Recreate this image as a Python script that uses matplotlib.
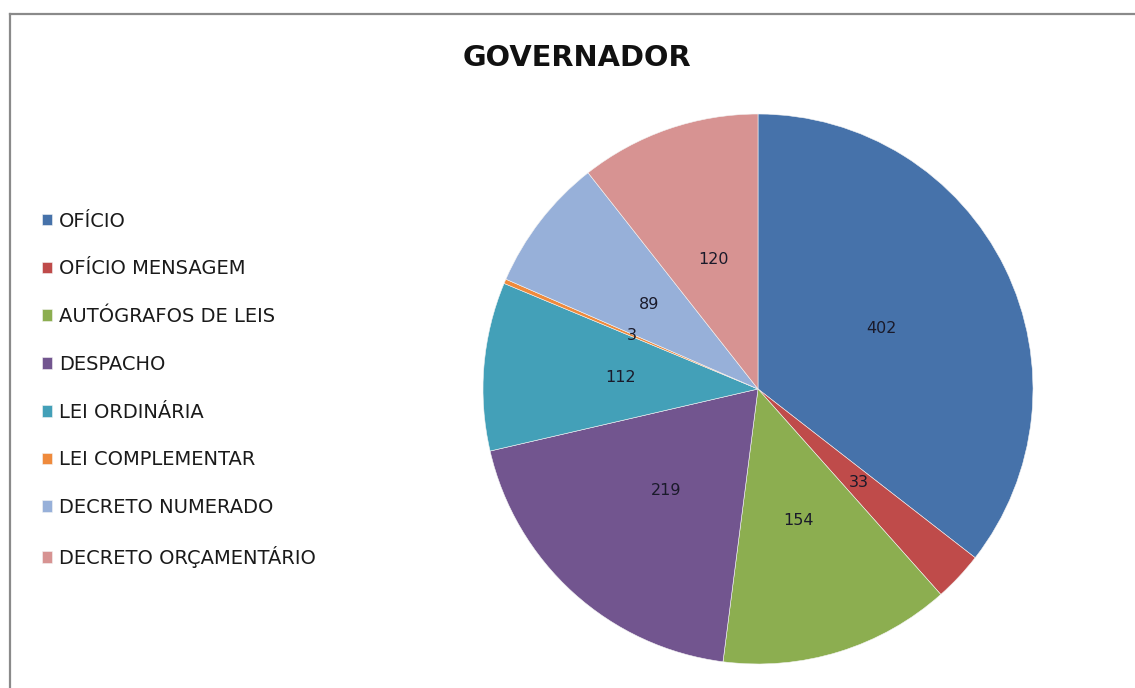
import matplotlib
matplotlib.use('Agg')
import matplotlib.pyplot as plt
from matplotlib.lines import Line2D

# dados do gráfico
categorias = ['OFÍCIO', 'OFÍCIO MENSAGEM', 'AUTÓGRAFOS DE LEIS', 'DESPACHO',
              'LEI ORDINÁRIA', 'LEI COMPLEMENTAR', 'DECRETO NUMERADO',
              'DECRETO ORÇAMENTÁRIO']
valores = [402, 33, 154, 219, 112, 3, 89, 120]
cores = ['#4672aa', '#bf4b4a', '#8cae50', '#72558f', '#43a0b8', '#ef8a3c',
         '#97b0d9', '#d79392']

plt.rcParams['font.family'] = ['DejaVu Sans']

fig = plt.figure(figsize=(11.35, 6.88), dpi=100)
W, H = 1135, 688

# centro e raio da pizza em pixels
cx, cy, r = 758, 389, 275
ax = fig.add_axes([(cx - r) / W, (H - cy - r) / H, 2 * r / W, 2 * r / H])

total = sum(valores)
wedges, textos, autotextos = ax.pie(
    valores, colors=cores, startangle=90, counterclock=False,
    autopct=lambda p: '%d' % round(p * total / 100), pctdistance=0.5,
    wedgeprops=dict(edgecolor='#f4f4f4', linewidth=0.4),
    textprops=dict(fontsize=11.5, color='#1a1a2a'))
ax.set_xlim(-1, 1)
ax.set_ylim(-1, 1)
ax.set_aspect('equal')

fig.text(577 / W, 1 - 58 / H, 'GOVERNADOR', ha='center', va='center',
         fontsize=20.8, fontweight='bold', color='#111111')

fig.legend(wedges, categorias, loc='upper left',
           bbox_to_anchor=(24 / W, 1 - 194 / H), frameon=False,
           fontsize=14, labelspacing=1.48, handlelength=0.55,
           handleheight=0.55, handletextpad=0.35, labelcolor='#1a1a1a')

# moldura
fig.add_artist(Line2D([10 / W, 10 / W], [0, 1 - 14 / H], color='#8a8a8a',
                      linewidth=1.6, transform=fig.transFigure))
fig.add_artist(Line2D([10 / W, 1], [1 - 14 / H, 1 - 14 / H], color='#8a8a8a',
                      linewidth=1.6, transform=fig.transFigure))

fig.savefig('out.png', dpi=100)
